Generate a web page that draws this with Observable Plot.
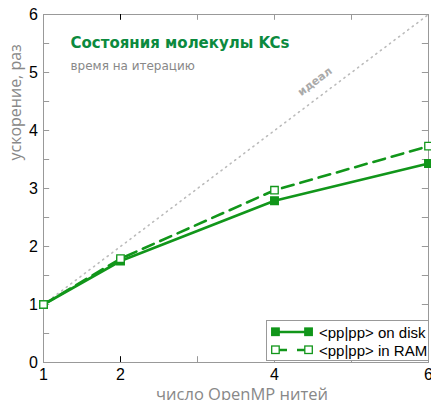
<!DOCTYPE html>
<html>
<head>
<meta charset="utf-8">
<script src="https://cdn.jsdelivr.net/npm/d3@7"></script>
<script src="https://cdn.jsdelivr.net/npm/@observablehq/plot@0.6"></script>
<style>
  body { margin: 0; background: #fff; }
  #wrap { position: relative; width: 431px; height: 400px; overflow: hidden; }
  #legend { position: absolute; left: 266px; top: 320px; width: 161px; height: 39px;
    border: 1px solid #999; background: #fff; font: 15px "Liberation Sans", Arial, sans-serif; color: #000; }
  #legend .row { position: absolute; left: 4px; height: 16px; display: flex; align-items: center; }
  #legend svg { margin-right: 6px; }
</style>
</head>
<body>
<div id="wrap"></div>
<script>
const threads = [1, 2, 4, 6];
const diskSpeedup = [1.0, 1.75, 2.79, 3.43];
const ramSpeedup = [1.0, 1.79, 2.97, 3.73];
const idealThreads = [1, 6];
const xTickLabels = [1, 2, 4, 6];
const yTickLabels = [0, 1, 2, 3, 4, 5, 6];
const xMinorTicks = [2, 3, 4, 5];
const yMinorTicks = [0.5, 1, 1.5, 2, 2.5, 3, 3.5, 4, 4.5, 5, 5.5];
const seriesNames = ["<pp|pp> on disk", "<pp|pp> in RAM"];
const titleText = "Состояния молекулы KCs";
const subtitleText = "время на итерацию";
const xLabel = "число OpenMP нитей";
const yLabel = "ускорение, раз";
const idealLabel = "идеал";

const green = "#11961a";
const disk = threads.map((t, i) => ({t, v: diskSpeedup[i]}));
const ram = threads.map((t, i) => ({t, v: ramSpeedup[i]}));
const ideal = idealThreads.map(t => ({t, v: t}));

const chart = Plot.plot({
  width: 431, height: 400,
  marginLeft: 43, marginRight: 3, marginTop: 14, marginBottom: 38,
  x: {domain: [1, 6], axis: null},
  y: {domain: [0, 6], axis: null},
  style: {background: "#fff", overflow: "visible"},
  marks: [
    Plot.frame({stroke: "#999"}),
    // inward ticks
    Plot.ruleX(xMinorTicks, {y1: 0, y2: 0.1, stroke: d => d === 2 ? "#000" : "#999"}),
    Plot.ruleX(xMinorTicks, {y1: 6, y2: 5.9, stroke: d => d === 2 ? "#000" : "#999"}),
    Plot.ruleY(yMinorTicks, {x1: 1, x2: 1.08, stroke: "#999"}),
    Plot.ruleY(yMinorTicks, {x1: 6, x2: 5.92, stroke: "#999"}),
    // tick labels
    Plot.text(xTickLabels, {x: d => d, y: 0, text: d => String(d), dy: 12, fontSize: 16,
      fontFamily: "Liberation Sans, Arial, sans-serif", fill: "#000"}),
    Plot.text(yTickLabels, {x: 1, y: d => d, text: d => String(d), dx: -10, fontSize: 16,
      fontFamily: "Liberation Sans, Arial, sans-serif", fill: "#000"}),
    // ideal
    Plot.line(ideal, {x: "t", y: "v", stroke: "#bbb", strokeWidth: 1.6, strokeDasharray: "1.2,4.5", strokeLinecap: "round"}),
    Plot.text([idealLabel], {x: 4.5, y: 4.5, dx: 2, dy: -20, rotate: -37, fill: "#aaa", fontSize: 11,
      fontWeight: "bold", fontFamily: "DejaVu Sans, sans-serif"}),
    // series
    Plot.line(ram, {x: "t", y: "v", stroke: green, strokeWidth: 2.6, strokeDasharray: "12,7"}),
    Plot.line(disk, {x: "t", y: "v", stroke: green, strokeWidth: 2.6}),
    Plot.dot(disk, {x: "t", y: "v", symbol: "square", r: 4.2, fill: green, stroke: green}),
    Plot.dot(ram, {x: "t", y: "v", symbol: "square", r: 4.2, fill: "#fff", stroke: green, strokeWidth: 1.3}),
    // title / subtitle
    Plot.text([titleText], {frameAnchor: "top-left", dx: 27, dy: 23, textAnchor: "start", fill: "#0b8a3e",
      fontSize: 15, fontWeight: "bold", fontFamily: "DejaVu Sans, sans-serif"}),
    Plot.text([subtitleText], {frameAnchor: "top-left", dx: 27, dy: 47, textAnchor: "start", fill: "#888",
      fontSize: 12, fontFamily: "DejaVu Sans, sans-serif"}),
    // axis labels
    Plot.text([xLabel], {frameAnchor: "bottom", dx: 6, dy: 37, fill: "#888", fontSize: 16.5,
      fontFamily: "Open Sans, sans-serif"}),
    Plot.text([yLabel], {frameAnchor: "left", dx: -28, dy: -28, rotate: -90, fill: "#888", fontSize: 16,
      fontFamily: "Open Sans, sans-serif"})
  ]
});
const wrap = document.getElementById("wrap");
wrap.appendChild(chart);

// legend
const legend = document.createElement("div");
legend.id = "legend";
const swatch = (dashed) => `<svg width="42" height="12" viewBox="0 0 42 12">
  <line x1="4" y1="6" x2="38" y2="6" stroke="${green}" stroke-width="2.6" ${dashed ? 'stroke-dasharray="8,10" stroke-dashoffset="-4"' : ''}/>
  <rect x="0.7" y="2" width="7.5" height="7.5" fill="${dashed ? '#fff' : green}" stroke="${green}" stroke-width="1.3"/>
  <rect x="33.8" y="2" width="7.5" height="7.5" fill="${dashed ? '#fff' : green}" stroke="${green}" stroke-width="1.3"/>
</svg>`;
legend.innerHTML = seriesNames.map((n, i) =>
  `<div class="row" style="top:${3 + i * 18}px">${swatch(i === 1)}<span>${n.replace(/</g, "&lt;").replace(/>/g, "&gt;")}</span></div>`
).join("");
wrap.appendChild(legend);
</script>
</body>
</html>
